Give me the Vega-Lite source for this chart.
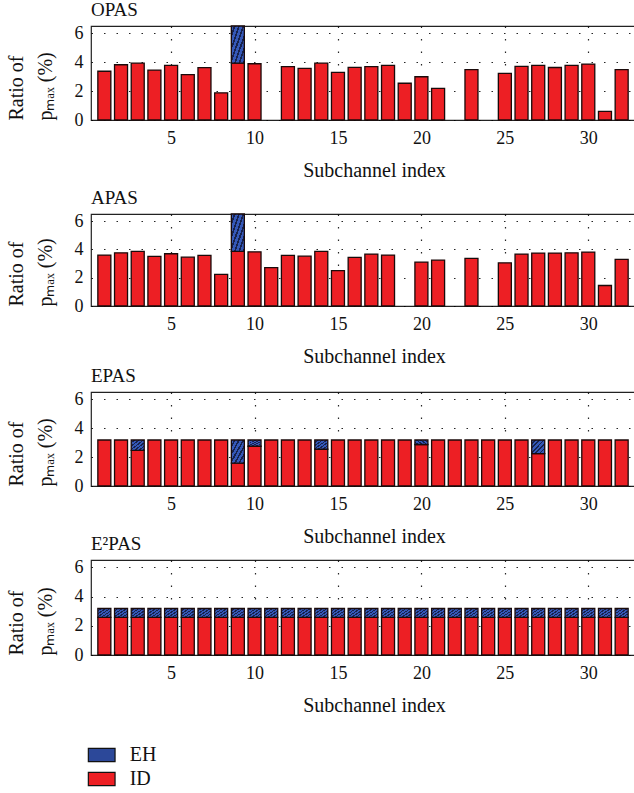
{
"$schema":"https://vega.github.io/schema/vega-lite/v6.json",
"padding":{"left":5,"top":0,"right":0,"bottom":0},
"background":"white",
"datasets":{"d":[
{"p":"OPAS","i":1,"t":"ID","v":3.37},{"p":"OPAS","i":2,"t":"ID","v":3.82},{"p":"OPAS","i":3,"t":"ID","v":3.93},{"p":"OPAS","i":4,"t":"ID","v":3.45},{"p":"OPAS","i":5,"t":"ID","v":3.78},{"p":"OPAS","i":6,"t":"ID","v":3.14},{"p":"OPAS","i":7,"t":"ID","v":3.62},{"p":"OPAS","i":8,"t":"ID","v":1.88},{"p":"OPAS","i":9,"t":"ID","v":3.93},{"p":"OPAS","i":9,"t":"EH","v":2.57},{"p":"OPAS","i":10,"t":"ID","v":3.89},{"p":"OPAS","i":12,"t":"ID","v":3.69},{"p":"OPAS","i":13,"t":"ID","v":3.57},{"p":"OPAS","i":14,"t":"ID","v":3.93},{"p":"OPAS","i":15,"t":"ID","v":3.30},{"p":"OPAS","i":16,"t":"ID","v":3.64},{"p":"OPAS","i":17,"t":"ID","v":3.69},{"p":"OPAS","i":18,"t":"ID","v":3.78},{"p":"OPAS","i":19,"t":"ID","v":2.54},{"p":"OPAS","i":20,"t":"ID","v":2.99},{"p":"OPAS","i":21,"t":"ID","v":2.18},{"p":"OPAS","i":23,"t":"ID","v":3.49},{"p":"OPAS","i":25,"t":"ID","v":3.23},{"p":"OPAS","i":26,"t":"ID","v":3.71},{"p":"OPAS","i":27,"t":"ID","v":3.78},{"p":"OPAS","i":28,"t":"ID","v":3.63},{"p":"OPAS","i":29,"t":"ID","v":3.78},{"p":"OPAS","i":30,"t":"ID","v":3.87},{"p":"OPAS","i":31,"t":"ID","v":0.6},{"p":"OPAS","i":32,"t":"ID","v":3.49},
{"p":"APAS","i":1,"t":"ID","v":3.6},{"p":"APAS","i":2,"t":"ID","v":3.76},{"p":"APAS","i":3,"t":"ID","v":3.86},{"p":"APAS","i":4,"t":"ID","v":3.5},{"p":"APAS","i":5,"t":"ID","v":3.69},{"p":"APAS","i":6,"t":"ID","v":3.45},{"p":"APAS","i":7,"t":"ID","v":3.57},{"p":"APAS","i":8,"t":"ID","v":2.24},{"p":"APAS","i":9,"t":"ID","v":3.86},{"p":"APAS","i":9,"t":"EH","v":2.64},{"p":"APAS","i":10,"t":"ID","v":3.83},{"p":"APAS","i":11,"t":"ID","v":2.71},{"p":"APAS","i":12,"t":"ID","v":3.57},{"p":"APAS","i":13,"t":"ID","v":3.52},{"p":"APAS","i":14,"t":"ID","v":3.86},{"p":"APAS","i":15,"t":"ID","v":2.5},{"p":"APAS","i":16,"t":"ID","v":3.43},{"p":"APAS","i":17,"t":"ID","v":3.67},{"p":"APAS","i":18,"t":"ID","v":3.6},{"p":"APAS","i":20,"t":"ID","v":3.1},{"p":"APAS","i":21,"t":"ID","v":3.24},{"p":"APAS","i":23,"t":"ID","v":3.36},{"p":"APAS","i":25,"t":"ID","v":3.05},{"p":"APAS","i":26,"t":"ID","v":3.67},{"p":"APAS","i":27,"t":"ID","v":3.74},{"p":"APAS","i":28,"t":"ID","v":3.74},{"p":"APAS","i":29,"t":"ID","v":3.76},{"p":"APAS","i":30,"t":"ID","v":3.81},{"p":"APAS","i":31,"t":"ID","v":1.45},{"p":"APAS","i":32,"t":"ID","v":3.29},
{"p":"EPAS","i":1,"t":"ID","v":3.18},{"p":"EPAS","i":2,"t":"ID","v":3.18},{"p":"EPAS","i":3,"t":"ID","v":2.47},{"p":"EPAS","i":3,"t":"EH","v":0.71},{"p":"EPAS","i":4,"t":"ID","v":3.18},{"p":"EPAS","i":5,"t":"ID","v":3.18},{"p":"EPAS","i":6,"t":"ID","v":3.18},{"p":"EPAS","i":7,"t":"ID","v":3.18},{"p":"EPAS","i":8,"t":"ID","v":3.18},{"p":"EPAS","i":9,"t":"ID","v":1.58},{"p":"EPAS","i":9,"t":"EH","v":1.6},{"p":"EPAS","i":10,"t":"ID","v":2.75},{"p":"EPAS","i":10,"t":"EH","v":0.43},{"p":"EPAS","i":11,"t":"ID","v":3.18},{"p":"EPAS","i":12,"t":"ID","v":3.18},{"p":"EPAS","i":13,"t":"ID","v":3.18},{"p":"EPAS","i":14,"t":"ID","v":2.54},{"p":"EPAS","i":14,"t":"EH","v":0.64},{"p":"EPAS","i":15,"t":"ID","v":3.18},{"p":"EPAS","i":16,"t":"ID","v":3.18},{"p":"EPAS","i":17,"t":"ID","v":3.18},{"p":"EPAS","i":18,"t":"ID","v":3.18},{"p":"EPAS","i":19,"t":"ID","v":3.18},{"p":"EPAS","i":20,"t":"ID","v":2.87},{"p":"EPAS","i":20,"t":"EH","v":0.31},{"p":"EPAS","i":21,"t":"ID","v":3.18},{"p":"EPAS","i":22,"t":"ID","v":3.18},{"p":"EPAS","i":23,"t":"ID","v":3.18},{"p":"EPAS","i":24,"t":"ID","v":3.18},{"p":"EPAS","i":25,"t":"ID","v":3.18},{"p":"EPAS","i":26,"t":"ID","v":3.18},{"p":"EPAS","i":27,"t":"ID","v":2.24},{"p":"EPAS","i":27,"t":"EH","v":0.94},{"p":"EPAS","i":28,"t":"ID","v":3.18},{"p":"EPAS","i":29,"t":"ID","v":3.18},{"p":"EPAS","i":30,"t":"ID","v":3.18},{"p":"EPAS","i":31,"t":"ID","v":3.18},{"p":"EPAS","i":32,"t":"ID","v":3.18},
{"p":"E2PAS","i":1,"t":"ID","v":2.58},{"p":"E2PAS","i":1,"t":"EH","v":0.6},{"p":"E2PAS","i":2,"t":"ID","v":2.58},{"p":"E2PAS","i":2,"t":"EH","v":0.6},{"p":"E2PAS","i":3,"t":"ID","v":2.58},{"p":"E2PAS","i":3,"t":"EH","v":0.6},{"p":"E2PAS","i":4,"t":"ID","v":2.58},{"p":"E2PAS","i":4,"t":"EH","v":0.6},{"p":"E2PAS","i":5,"t":"ID","v":2.58},{"p":"E2PAS","i":5,"t":"EH","v":0.6},{"p":"E2PAS","i":6,"t":"ID","v":2.58},{"p":"E2PAS","i":6,"t":"EH","v":0.6},{"p":"E2PAS","i":7,"t":"ID","v":2.58},{"p":"E2PAS","i":7,"t":"EH","v":0.6},{"p":"E2PAS","i":8,"t":"ID","v":2.58},{"p":"E2PAS","i":8,"t":"EH","v":0.6},{"p":"E2PAS","i":9,"t":"ID","v":2.58},{"p":"E2PAS","i":9,"t":"EH","v":0.6},{"p":"E2PAS","i":10,"t":"ID","v":2.58},{"p":"E2PAS","i":10,"t":"EH","v":0.6},{"p":"E2PAS","i":11,"t":"ID","v":2.58},{"p":"E2PAS","i":11,"t":"EH","v":0.6},{"p":"E2PAS","i":12,"t":"ID","v":2.58},{"p":"E2PAS","i":12,"t":"EH","v":0.6},{"p":"E2PAS","i":13,"t":"ID","v":2.58},{"p":"E2PAS","i":13,"t":"EH","v":0.6},{"p":"E2PAS","i":14,"t":"ID","v":2.58},{"p":"E2PAS","i":14,"t":"EH","v":0.6},{"p":"E2PAS","i":15,"t":"ID","v":2.58},{"p":"E2PAS","i":15,"t":"EH","v":0.6},{"p":"E2PAS","i":16,"t":"ID","v":2.58},{"p":"E2PAS","i":16,"t":"EH","v":0.6},{"p":"E2PAS","i":17,"t":"ID","v":2.58},{"p":"E2PAS","i":17,"t":"EH","v":0.6},{"p":"E2PAS","i":18,"t":"ID","v":2.58},{"p":"E2PAS","i":18,"t":"EH","v":0.6},{"p":"E2PAS","i":19,"t":"ID","v":2.58},{"p":"E2PAS","i":19,"t":"EH","v":0.6},{"p":"E2PAS","i":20,"t":"ID","v":2.58},{"p":"E2PAS","i":20,"t":"EH","v":0.6},{"p":"E2PAS","i":21,"t":"ID","v":2.58},{"p":"E2PAS","i":21,"t":"EH","v":0.6},{"p":"E2PAS","i":22,"t":"ID","v":2.58},{"p":"E2PAS","i":22,"t":"EH","v":0.6},{"p":"E2PAS","i":23,"t":"ID","v":2.58},{"p":"E2PAS","i":23,"t":"EH","v":0.6},{"p":"E2PAS","i":24,"t":"ID","v":2.58},{"p":"E2PAS","i":24,"t":"EH","v":0.6},{"p":"E2PAS","i":25,"t":"ID","v":2.58},{"p":"E2PAS","i":25,"t":"EH","v":0.6},{"p":"E2PAS","i":26,"t":"ID","v":2.58},{"p":"E2PAS","i":26,"t":"EH","v":0.6},{"p":"E2PAS","i":27,"t":"ID","v":2.58},{"p":"E2PAS","i":27,"t":"EH","v":0.6},{"p":"E2PAS","i":28,"t":"ID","v":2.58},{"p":"E2PAS","i":28,"t":"EH","v":0.6},{"p":"E2PAS","i":29,"t":"ID","v":2.58},{"p":"E2PAS","i":29,"t":"EH","v":0.6},{"p":"E2PAS","i":30,"t":"ID","v":2.58},{"p":"E2PAS","i":30,"t":"EH","v":0.6},{"p":"E2PAS","i":31,"t":"ID","v":2.58},{"p":"E2PAS","i":31,"t":"EH","v":0.6},{"p":"E2PAS","i":32,"t":"ID","v":2.58},{"p":"E2PAS","i":32,"t":"EH","v":0.6}
]},
"data":{"name":"d"},
"spacing":7,
"vconcat":[
{"title":"OPAS","width":544,"height":94,
 "transform":[{"filter":"datum.p==='OPAS'"}],
 "mark":{"type":"bar","width":13,"stroke":"#1a0a0a","strokeWidth":1.3},
 "encoding":{
  "x":{"field":"i","type":"quantitative","scale":{"domain":[0.5,32.5],"nice":false,"zero":false},"axis":{"values":[5,10,15,20,25,30],"title":"Subchannel index","titleX":283,"labelPadding":9,"titlePadding":13}},
  "y":{"field":"v","type":"quantitative","stack":"zero","scale":{"domain":[0,6.5],"nice":false},"axis":{"values":[0,2,4,6],"title":["Ratio of","pₘₐₓ (%)"],"titleAnchor":"start","titlePadding":19,"titleLineHeight":29,"labelPadding":8}},
  "fill":{"field":"t","type":"nominal","scale":{"domain":["EH","ID"],"range":["#2c4899","#ed1f24"]},"condition":{"test":"datum.t==='EH'","value":{"gradient":"linear","x1":0,"y1":0,"x2":1,"y2":1,"stops":[{"offset":0,"color":"#3558b8"},{"offset":0.1,"color":"#3558b8"},{"offset":0.1,"color":"#17224d"},{"offset":0.1667,"color":"#17224d"},{"offset":0.1667,"color":"#3558b8"},{"offset":0.2667,"color":"#3558b8"},{"offset":0.2667,"color":"#17224d"},{"offset":0.3333,"color":"#17224d"},{"offset":0.3333,"color":"#3558b8"},{"offset":0.4333,"color":"#3558b8"},{"offset":0.4333,"color":"#17224d"},{"offset":0.5,"color":"#17224d"},{"offset":0.5,"color":"#3558b8"},{"offset":0.6,"color":"#3558b8"},{"offset":0.6,"color":"#17224d"},{"offset":0.6667,"color":"#17224d"},{"offset":0.6667,"color":"#3558b8"},{"offset":0.7667,"color":"#3558b8"},{"offset":0.7667,"color":"#17224d"},{"offset":0.8333,"color":"#17224d"},{"offset":0.8333,"color":"#3558b8"},{"offset":0.9333,"color":"#3558b8"},{"offset":0.9333,"color":"#17224d"},{"offset":1,"color":"#17224d"}]}}},
  "order":{"field":"t","sort":"descending"}
 }},
{"spacing":-1,"vconcat":[
{"title":"APAS","width":544,"height":92,
 "transform":[{"filter":"datum.p==='APAS'"}],
 "mark":{"type":"bar","width":13,"stroke":"#1a0a0a","strokeWidth":1.3},
 "encoding":{
  "x":{"field":"i","type":"quantitative","scale":{"domain":[0.5,32.5],"nice":false,"zero":false},"axis":{"values":[5,10,15,20,25,30],"title":"Subchannel index","titleX":283,"labelPadding":9,"titlePadding":13}},
  "y":{"field":"v","type":"quantitative","stack":"zero","scale":{"domain":[0,6.5],"nice":false},"axis":{"values":[0,2,4,6],"title":["Ratio of","pₘₐₓ (%)"],"titleAnchor":"start","titlePadding":19,"titleLineHeight":29,"labelPadding":8}},
  "fill":{"field":"t","type":"nominal","condition":{"test":"datum.t==='EH'","value":{"gradient":"linear","x1":0,"y1":0,"x2":1,"y2":1,"stops":[{"offset":0,"color":"#3558b8"},{"offset":0.1,"color":"#3558b8"},{"offset":0.1,"color":"#17224d"},{"offset":0.1667,"color":"#17224d"},{"offset":0.1667,"color":"#3558b8"},{"offset":0.2667,"color":"#3558b8"},{"offset":0.2667,"color":"#17224d"},{"offset":0.3333,"color":"#17224d"},{"offset":0.3333,"color":"#3558b8"},{"offset":0.4333,"color":"#3558b8"},{"offset":0.4333,"color":"#17224d"},{"offset":0.5,"color":"#17224d"},{"offset":0.5,"color":"#3558b8"},{"offset":0.6,"color":"#3558b8"},{"offset":0.6,"color":"#17224d"},{"offset":0.6667,"color":"#17224d"},{"offset":0.6667,"color":"#3558b8"},{"offset":0.7667,"color":"#3558b8"},{"offset":0.7667,"color":"#17224d"},{"offset":0.8333,"color":"#17224d"},{"offset":0.8333,"color":"#3558b8"},{"offset":0.9333,"color":"#3558b8"},{"offset":0.9333,"color":"#17224d"},{"offset":1,"color":"#17224d"}]}}},
  "order":{"field":"t","sort":"descending"}
 }},
{"spacing":-13,"vconcat":[
{"title":"EPAS","width":544,"height":94,
 "transform":[{"filter":"datum.p==='EPAS'"}],
 "mark":{"type":"bar","width":13,"stroke":"#1a0a0a","strokeWidth":1.3},
 "encoding":{
  "x":{"field":"i","type":"quantitative","scale":{"domain":[0.5,32.5],"nice":false,"zero":false},"axis":{"values":[5,10,15,20,25,30],"title":"Subchannel index","titleX":283,"labelPadding":9,"titlePadding":13}},
  "y":{"field":"v","type":"quantitative","stack":"zero","scale":{"domain":[0,6.5],"nice":false},"axis":{"values":[0,2,4,6],"title":["Ratio of","pₘₐₓ (%)"],"titleAnchor":"start","titlePadding":19,"titleLineHeight":29,"labelPadding":8}},
  "fill":{"field":"t","type":"nominal","condition":{"test":"datum.t==='EH'","value":{"gradient":"linear","x1":0,"y1":0,"x2":1,"y2":1,"stops":[{"offset":0,"color":"#3558b8"},{"offset":0.1,"color":"#3558b8"},{"offset":0.1,"color":"#17224d"},{"offset":0.1667,"color":"#17224d"},{"offset":0.1667,"color":"#3558b8"},{"offset":0.2667,"color":"#3558b8"},{"offset":0.2667,"color":"#17224d"},{"offset":0.3333,"color":"#17224d"},{"offset":0.3333,"color":"#3558b8"},{"offset":0.4333,"color":"#3558b8"},{"offset":0.4333,"color":"#17224d"},{"offset":0.5,"color":"#17224d"},{"offset":0.5,"color":"#3558b8"},{"offset":0.6,"color":"#3558b8"},{"offset":0.6,"color":"#17224d"},{"offset":0.6667,"color":"#17224d"},{"offset":0.6667,"color":"#3558b8"},{"offset":0.7667,"color":"#3558b8"},{"offset":0.7667,"color":"#17224d"},{"offset":0.8333,"color":"#17224d"},{"offset":0.8333,"color":"#3558b8"},{"offset":0.9333,"color":"#3558b8"},{"offset":0.9333,"color":"#17224d"},{"offset":1,"color":"#17224d"}]}}},
  "order":{"field":"t","sort":"descending"}
 }},
{"title":"E²PAS","width":544,"height":95,
 "transform":[{"filter":"datum.p==='E2PAS'"}],
 "mark":{"type":"bar","width":13,"stroke":"#1a0a0a","strokeWidth":1.3},
 "encoding":{
  "x":{"field":"i","type":"quantitative","scale":{"domain":[0.5,32.5],"nice":false,"zero":false},"axis":{"values":[5,10,15,20,25,30],"title":"Subchannel index","titleX":283,"labelPadding":9,"titlePadding":13}},
  "y":{"field":"v","type":"quantitative","stack":"zero","scale":{"domain":[0,6.5],"nice":false},"axis":{"values":[0,2,4,6],"title":["Ratio of","pₘₐₓ (%)"],"titleAnchor":"start","titlePadding":19,"titleLineHeight":29,"labelPadding":8}},
  "fill":{"field":"t","type":"nominal","condition":{"test":"datum.t==='EH'","value":{"gradient":"linear","x1":0,"y1":0,"x2":1,"y2":1,"stops":[{"offset":0,"color":"#3558b8"},{"offset":0.1,"color":"#3558b8"},{"offset":0.1,"color":"#17224d"},{"offset":0.1667,"color":"#17224d"},{"offset":0.1667,"color":"#3558b8"},{"offset":0.2667,"color":"#3558b8"},{"offset":0.2667,"color":"#17224d"},{"offset":0.3333,"color":"#17224d"},{"offset":0.3333,"color":"#3558b8"},{"offset":0.4333,"color":"#3558b8"},{"offset":0.4333,"color":"#17224d"},{"offset":0.5,"color":"#17224d"},{"offset":0.5,"color":"#3558b8"},{"offset":0.6,"color":"#3558b8"},{"offset":0.6,"color":"#17224d"},{"offset":0.6667,"color":"#17224d"},{"offset":0.6667,"color":"#3558b8"},{"offset":0.7667,"color":"#3558b8"},{"offset":0.7667,"color":"#17224d"},{"offset":0.8333,"color":"#17224d"},{"offset":0.8333,"color":"#3558b8"},{"offset":0.9333,"color":"#3558b8"},{"offset":0.9333,"color":"#17224d"},{"offset":1,"color":"#17224d"}]}}},
  "order":{"field":"t","sort":"descending"}
 }}
]}]}],
"config":{
 "font":"Liberation Serif",
 "view":{"stroke":"#222","strokeWidth":1.2},
 "axis":{"labelFont":"Liberation Serif","labelFontSize":18,"labelColor":"#111","titleFont":"Liberation Serif","titleFontSize":20,"titleFontWeight":"normal","titleColor":"#111","grid":true,"gridColor":"#000","gridDash":[1.5,11],"gridWidth":1.2,"gridOpacity":0.85,"ticks":false,"domain":false},
 "title":{"anchor":"start","frame":"group","font":"Liberation Serif","fontSize":19,"fontWeight":"normal","color":"#111","offset":4},
 "legend":{"orient":"none","legendX":-3.3,"legendY":715,"title":null,"symbolType":"M-1,-0.5H1V0.5H-1Z","symbolSize":713,"symbolStrokeColor":"#111","symbolStrokeWidth":1.2,"labelFont":"Liberation Serif","labelFontSize":20,"labelColor":"#111","labelOffset":14,"rowPadding":0}
}
}
